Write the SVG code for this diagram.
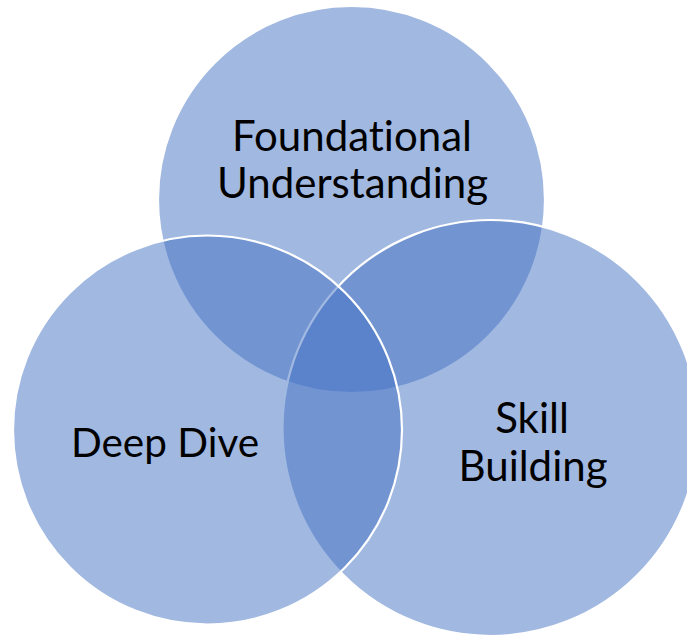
<svg xmlns="http://www.w3.org/2000/svg" width="687" height="636" viewBox="0 0 687 636">
<style>
.c{fill:#4472C4;fill-opacity:0.5;stroke:#FFFFFF;stroke-width:2.2}
.t{font-family:Lato,"Liberation Sans",sans-serif;font-size:42px;fill:#000000;text-anchor:middle;font-variant-ligatures:none;font-feature-settings:"liga" 0}
.s{font-size:40.5px}
</style>
<rect width="687" height="636" fill="#FFFFFF"/>
<g id="foundational">
<circle class="c" cx="351.5" cy="199.5" r="193.5"/>
<text class="t" x="352" y="150.5">Foundational</text>
<text class="t" x="352.5" y="198">Understanding</text>
</g>
<g id="skill">
<circle class="c" cx="490.5" cy="428" r="208"/>
<text class="t" x="532" y="432.5">Skill</text>
<text class="t" x="533" y="481">Building</text>
</g>
<g id="deepdive">
<circle class="c" cx="207.5" cy="430" r="194.5"/>
<text class="t s" x="165" y="456.5">Deep Dive</text>
</g>
<g id="connectors"/>
</svg>
